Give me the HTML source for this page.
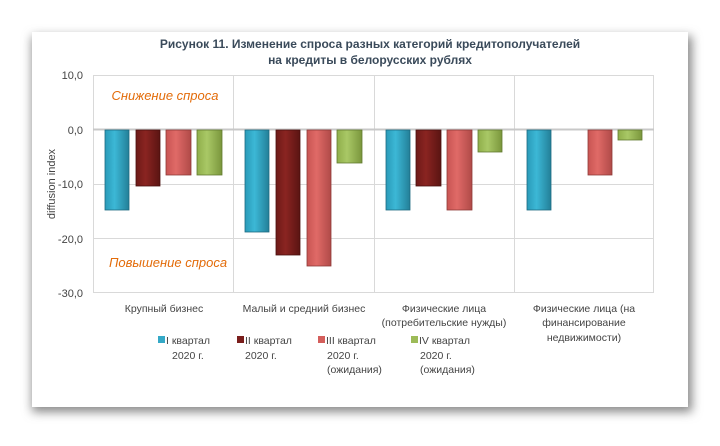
<!DOCTYPE html>
<html><head><meta charset="utf-8"><style>
body{margin:0;width:720px;height:441px;background:#fff;overflow:hidden;font-family:"Liberation Sans","DejaVu Sans",sans-serif}
svg text{font-family:"Liberation Sans","DejaVu Sans",sans-serif}
</style></head><body>
<svg width="720" height="441" viewBox="0 0 720 441" xmlns="http://www.w3.org/2000/svg">
<defs>
<filter id="sh" x="-5%" y="-5%" width="110%" height="115%"><feGaussianBlur stdDeviation="5"/></filter>
<linearGradient id="gb" x1="0" x2="1"><stop offset="0" stop-color="#2a9ab8"/><stop offset="0.4" stop-color="#3cb8d6"/><stop offset="1" stop-color="#237f98"/></linearGradient>
<linearGradient id="gd" x1="0" x2="1"><stop offset="0" stop-color="#6e1a18"/><stop offset="0.4" stop-color="#8a2421"/><stop offset="1" stop-color="#5a1412"/></linearGradient>
<linearGradient id="gr" x1="0" x2="1"><stop offset="0" stop-color="#c85553"/><stop offset="0.4" stop-color="#e06a67"/><stop offset="1" stop-color="#b04a48"/></linearGradient>
<linearGradient id="gg" x1="0" x2="1"><stop offset="0" stop-color="#8fae4a"/><stop offset="0.4" stop-color="#a9c866"/><stop offset="1" stop-color="#7a963c"/></linearGradient>
</defs>
<rect x="32" y="36" width="660" height="376" fill="#888" filter="url(#sh)"/>
<rect x="32" y="32" width="656" height="375" fill="#fff"/>
<text x="370" y="48" font-size="12" font-weight="bold" fill="#3a4a5a" text-anchor="middle">Рисунок 11. Изменение спроса разных категорий кредитополучателей</text>
<text x="370" y="64" font-size="12" font-weight="bold" fill="#3a4a5a" text-anchor="middle">на кредиты в белорусских рублях</text>
<g stroke="#d9d9d9" stroke-width="1" fill="none">
<rect x="93.5" y="75.5" width="560" height="217"/>
<line x1="93" y1="184.5" x2="654" y2="184.5"/>
<line x1="93" y1="238.5" x2="654" y2="238.5"/>
<line x1="233.5" y1="75" x2="233.5" y2="293"/>
<line x1="374.5" y1="75" x2="374.5" y2="293"/>
<line x1="514.5" y1="75" x2="514.5" y2="293"/>
</g>
<line x1="93" y1="129.5" x2="654" y2="129.5" stroke="#c8c8c8" stroke-width="2"/>
<g font-size="11" fill="#444" text-anchor="end">
<text x="83" y="79">10,0</text><text x="83" y="134">0,0</text><text x="83" y="188">-10,0</text><text x="83" y="243">-20,0</text><text x="83" y="297">-30,0</text>
</g>
<text transform="translate(55,184) rotate(-90)" font-size="11" fill="#444" text-anchor="middle">diffusion index</text>
<text x="165" y="100" font-size="13" font-style="italic" fill="#e36c0a" text-anchor="middle">Снижение спроса</text>
<text x="168" y="267" font-size="13" font-style="italic" fill="#e36c0a" text-anchor="middle">Повышение спроса</text>
<g stroke-width="0.8">
<rect x="105" y="130" width="24" height="80" fill="url(#gb)" stroke="#1d6a80"/>
<rect x="136" y="130" width="24" height="56" fill="url(#gd)" stroke="#4a0f0e"/>
<rect x="166" y="130" width="25" height="45" fill="url(#gr)" stroke="#8e3a38"/>
<rect x="197" y="130" width="25" height="45" fill="url(#gg)" stroke="#627a30"/>
<rect x="245" y="130" width="24" height="102" fill="url(#gb)" stroke="#1d6a80"/>
<rect x="276" y="130" width="24" height="125" fill="url(#gd)" stroke="#4a0f0e"/>
<rect x="307" y="130" width="24" height="136" fill="url(#gr)" stroke="#8e3a38"/>
<rect x="337" y="130" width="25" height="33" fill="url(#gg)" stroke="#627a30"/>
<rect x="386" y="130" width="24" height="80" fill="url(#gb)" stroke="#1d6a80"/>
<rect x="416" y="130" width="25" height="56" fill="url(#gd)" stroke="#4a0f0e"/>
<rect x="447" y="130" width="25" height="80" fill="url(#gr)" stroke="#8e3a38"/>
<rect x="478" y="130" width="24" height="22" fill="url(#gg)" stroke="#627a30"/>
<rect x="527" y="130" width="24" height="80" fill="url(#gb)" stroke="#1d6a80"/>
<rect x="588" y="130" width="24" height="45" fill="url(#gr)" stroke="#8e3a38"/>
<rect x="618" y="130" width="24" height="10" fill="url(#gg)" stroke="#627a30"/>
</g>
<g font-size="10.5" fill="#444" text-anchor="middle">
<text x="164" y="312">Крупный бизнес</text>
<text x="304" y="312">Малый и средний бизнес</text>
<text x="444" y="312">Физические лица</text>
<text x="444" y="326">(потребительские нужды)</text>
<text x="584" y="312">Физические лица (на</text>
<text x="584" y="326">финансирование</text>
<text x="584" y="341">недвижимости)</text>
</g>
<g font-size="10.5" fill="#444">
<rect x="158" y="336" width="7" height="7" fill="#35a9c7"/>
<text x="166" y="344">I квартал</text><text x="172" y="359">2020 г.</text>
<rect x="237" y="336" width="7" height="7" fill="#7a1e1c"/>
<text x="245" y="344">II квартал</text><text x="245" y="359">2020 г.</text>
<rect x="318" y="336" width="7" height="7" fill="#d45f5c"/>
<text x="326" y="344">III квартал</text><text x="327" y="359">2020 г.</text><text x="327" y="373">(ожидания)</text>
<rect x="411" y="336" width="7" height="7" fill="#9dbb58"/>
<text x="419" y="344">IV квартал</text><text x="420" y="359">2020 г.</text><text x="420" y="373">(ожидания)</text>
</g>
</svg>
</body></html>
